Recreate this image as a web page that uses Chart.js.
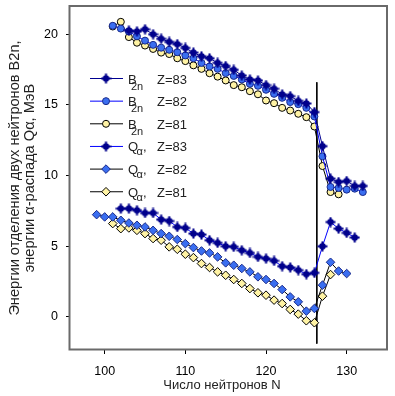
<!DOCTYPE html>
<html>
<head>
<meta charset="utf-8">
<script src="https://cdn.jsdelivr.net/npm/chart.js@4.4.0/dist/chart.umd.min.js"></script>
<style>
  html, body { margin: 0; padding: 0; background: #fff; }
  canvas { display: block; }
</style>
</head>
<body>
<canvas id="chart" width="395" height="396"></canvas>
<script>
// число нейтронов N для каждой серии
const nB83 = [103,104,105,106,107,108,109,110,111,112,113,114,115,116,117,118,119,120,121,122,123,124,125,126,127,128,129,130,131,132];
const nB82 = [101,102,103,104,105,106,107,108,109,110,111,112,113,114,115,116,117,118,119,120,121,122,123,124,125,126,127,128,129,130,131,132];
const nB81 = [101,102,103,104,105,106,107,108,109,110,111,112,113,114,115,116,117,118,119,120,121,122,123,124,125,126,127,128,129];
const nQ83 = [102,103,104,105,106,107,108,109,110,111,112,113,114,115,116,117,118,119,120,121,122,123,124,125,126,127,128,129,130,131];
const nQ82 = [99,100,101,102,103,104,105,106,107,108,109,110,111,112,113,114,115,116,117,118,119,120,121,122,123,124,125,126,127,128,129,130];
const nQ81 = [101,102,103,104,105,106,107,108,109,110,111,112,113,114,115,116,117,118,119,120,121,122,123,124,125,126,127,128];

// B2n, МэВ
const b2n83 = [20.26,20.2,20.35,20.0,19.68,19.46,19.3,19.03,18.7,18.44,18.3,17.97,17.75,17.48,17.08,16.8,16.73,16.4,16.14,15.74,15.62,15.28,15.1,14.49,12.08,9.78,9.54,9.61,9.26,9.26];
const b2n82 = [20.6,20.4,20.2,19.85,19.55,19.25,19.05,18.9,18.73,18.5,18.3,17.97,17.72,17.55,17.25,17.05,16.8,16.49,16.35,16.07,15.78,15.5,15.2,15.05,14.79,14.18,11.36,9.19,9.12,9.0,9.07,8.83];
const b2n81 = [20.55,20.88,19.8,19.4,19.2,18.96,18.7,18.6,18.3,18.1,17.8,17.55,17.24,17.0,16.73,16.4,16.25,15.97,15.75,15.31,15.12,14.79,14.6,14.37,14.13,13.47,10.67,8.83,8.67];

// Q-alpha, МэВ
const qa83 = [7.66,7.66,7.54,7.35,7.35,6.88,6.78,6.36,6.29,5.89,5.82,5.42,5.23,4.99,4.95,4.71,4.52,4.24,4.12,3.96,3.58,3.49,3.30,3.02,3.11,4.99,6.71,6.24,5.94,5.61];
const qa82 = [7.23,7.07,7.07,6.83,6.64,6.48,6.36,6.12,5.89,5.70,5.47,5.18,4.90,4.66,4.52,4.24,3.82,3.65,3.42,3.18,2.83,2.64,2.36,1.93,1.41,1.06,0.40,0.59,2.24,3.86,3.24,3.06];
const qa81 = [6.60,6.24,6.29,6.12,5.89,5.54,5.42,4.95,4.78,4.43,4.19,3.77,3.49,3.18,2.94,2.64,2.36,2.00,1.70,1.53,1.18,0.94,0.52,0.19,-0.28,-0.42,1.46,2.99];

// вертикальная линия N=126
const shellN = [126.3, 126.3];
const shellE = [16.6, -1.9];

const legendSymbol = ['B', 'B', 'B', 'Q', 'Q', 'Q'];
const legendSub = ['2n', '2n', '2n', 'α', 'α', 'α'];
const legendZ = ['Z=83', 'Z=82', 'Z=81', 'Z=83', 'Z=82', 'Z=81'];

const yTitle = ['Энергии отделения двух нейтронов B2n,', 'энергии α-распада Qα, МэВ'];
const xTitle = 'Число нейтронов N';

const FONT = "'Liberation Sans', Arial, sans-serif";
Chart.defaults.font.family = FONT;

const NAVY = '#00008c';
const BLUE = '#3a6ef0';
const YELLOW = '#fff3a4';

// маркер: тёмный кружок с крестиком
function crossMarker(color) {
  const c = document.createElement('canvas');
  c.width = 11;
  c.height = 11;
  const g = c.getContext('2d');
  g.fillStyle = color;
  g.beginPath();
  g.arc(5.5, 5.5, 3.3, 0, Math.PI * 2);
  g.fill();
  g.fillRect(4.5, 0.5, 2, 10);
  g.fillRect(0.5, 4.5, 10, 2);
  return c;
}
const navyCross = crossMarker(NAVY);

function pts(xs, ys) {
  return xs.map((x, i) => ({ x: x, y: ys[i] }));
}

function series(xs, ys, line, style) {
  return Object.assign({
    data: pts(xs, ys),
    borderColor: line,
    borderWidth: 1,
    pointRadius: 3.5,
    pointHoverRadius: 3.5,
    pointBorderWidth: 1,
    tension: 0
  }, style);
}

const datasets = [
  series(nB83, b2n83, '#000090', { pointStyle: navyCross }),
  series(nB82, b2n82, '#0000ff', { pointStyle: 'circle', pointBackgroundColor: BLUE, pointBorderColor: '#1a2a8a' }),
  series(nB81, b2n81, '#000000', { pointStyle: 'circle', pointBackgroundColor: YELLOW, pointBorderColor: '#000' }),
  series(nQ83, qa83, '#0000ff', { pointStyle: navyCross }),
  series(nQ82, qa82, '#000000', { pointStyle: 'rectRot', pointRadius: 4.3, pointBackgroundColor: BLUE, pointBorderColor: '#1a2a8a' }),
  series(nQ81, qa81, '#000000', { pointStyle: 'rectRot', pointRadius: 4.3, pointBackgroundColor: YELLOW, pointBorderColor: '#000' }),
  { data: pts(shellN, shellE), borderColor: '#000', borderWidth: 1, pointRadius: 0 }
];

// рамка графика и подпись оси X
const framePlugin = {
  id: 'frame',
  afterDatasetsDraw(chart) {
    const a = chart.chartArea;
    const ctx = chart.ctx;
    ctx.save();
    ctx.strokeStyle = '#6a6a6a';
    ctx.lineWidth = 2;
    ctx.strokeRect(a.left - 0.5, a.top, a.right - a.left + 0.5, a.bottom - a.top - 0.5);

    ctx.fillStyle = '#222';
    ctx.font = '13px ' + FONT;
    ctx.textAlign = 'center';
    ctx.textBaseline = 'middle';
    ctx.fillText(xTitle, 222, 385);
    ctx.restore();
  }
};

// легенда внутри поля графика
const legendPlugin = {
  id: 'innerLegend',
  afterDraw(chart) {
    const ctx = chart.ctx;
    ctx.save();
    for (let i = 0; i < 6; i++) {
      const ds = chart.data.datasets[i];
      const y = 78.5 + i * 22.65;
      ctx.strokeStyle = ds.borderColor;
      ctx.lineWidth = 1;
      ctx.beginPath();
      ctx.moveTo(90, y);
      ctx.lineTo(123, y);
      ctx.stroke();

      ctx.fillStyle = ds.pointBackgroundColor || NAVY;
      ctx.strokeStyle = ds.pointBorderColor || NAVY;
      Chart.helpers.drawPoint(ctx, {
        pointStyle: ds.pointStyle,
        radius: ds.pointRadius,
        rotation: 0,
        borderWidth: ds.pointBorderColor ? 1 : 0
      }, 106, y);

      ctx.fillStyle = '#222';
      ctx.textAlign = 'left';
      ctx.textBaseline = 'alphabetic';
      ctx.font = '13px ' + FONT;
      ctx.fillText(legendSymbol[i], 128, y + 5);
      ctx.font = '11px ' + FONT;
      if (legendSymbol[i] === 'B') {
        ctx.fillText(legendSub[i], 131, y + 11);
      } else {
        ctx.fillText(legendSub[i], 136.5, y + 9);
        ctx.font = '13px ' + FONT;
        ctx.fillText(',', 143, y + 5);
      }
      ctx.font = '13px ' + FONT;
      ctx.fillText(legendZ[i], 157, y + 5);
    }
    ctx.restore();
  }
};

new Chart(document.getElementById('chart'), {
  type: 'line',
  data: { datasets: datasets },
  options: {
    responsive: false,
    animation: false,
    devicePixelRatio: 1,
    layout: { padding: { left: 0, right: 8, top: 6, bottom: 0 } },
    plugins: {
      legend: { display: false },
      tooltip: { enabled: false }
    },
    scales: {
      x: {
        type: 'linear',
        min: 95.7,
        max: 135,
        afterFit: s => { s.height = 46; s.paddingLeft = 0; s.paddingRight = 0; },
        border: { display: false },
        grid: { drawOnChartArea: false, tickLength: 4, tickColor: '#000' },
        ticks: { stepSize: 10, includeBounds: false, padding: 10, color: '#000', font: { size: 12.5 } }
      },
      y: {
        type: 'linear',
        min: -2.35,
        max: 22,
        afterFit: s => { s.width = 70; s.paddingTop = 0; s.paddingBottom = 0; },
        border: { display: false },
        grid: { drawOnChartArea: false, tickLength: 4, tickColor: '#000' },
        ticks: { stepSize: 5, includeBounds: false, padding: 8, color: '#000', font: { size: 12.5 } },
        title: { display: true, text: yTitle, color: '#222', font: { size: 14.6, lineHeight: 15 / 14.6 }, padding: { top: 7.5, bottom: 0 } }
      }
    }
  },
  plugins: [framePlugin, legendPlugin]
});
</script>
</body>
</html>
